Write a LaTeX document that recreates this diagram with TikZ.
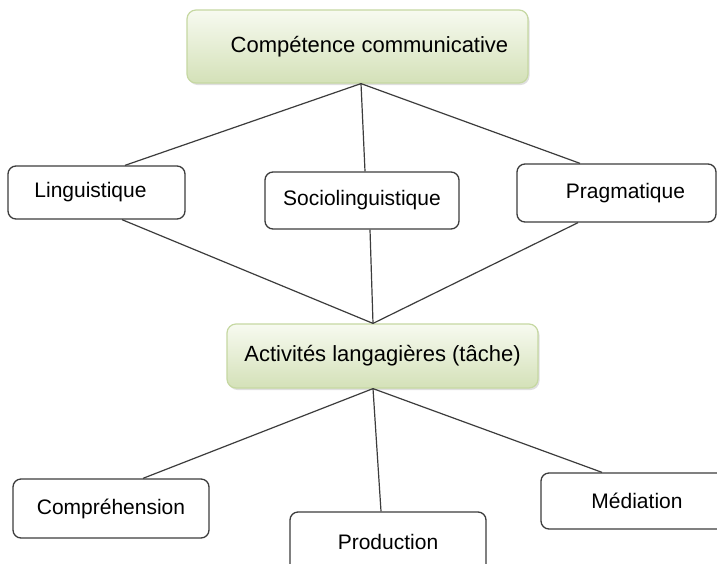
\documentclass[tikz,border=0pt]{standalone}
\usepackage{fontspec}
\setmainfont{Liberation Sans}
\usetikzlibrary{calc,shadows}

\definecolor{themetop}{HTML}{F7FAF0}
\definecolor{themebot}{HTML}{D4E1B8}
\definecolor{themeline}{HTML}{C6D8A2}
\definecolor{boxline}{HTML}{3C3C3C}

\tikzset{
  theme/.style={draw=themeline, line width=1.2pt, rounded corners=9pt,
    top color=themetop, bottom color=themebot,
    drop shadow={shadow xshift=1.5pt, shadow yshift=-2pt, opacity=0.25},
    font=\fontsize{22pt}{26pt}\selectfont},
  plain/.style={draw=boxline, line width=1.3pt, rounded corners=8pt, fill=white,
    font=\fontsize{21pt}{25pt}\selectfont},
  link/.style={draw=boxline, line width=1.2pt}
}

\begin{document}
\begin{tikzpicture}[x=1pt, y=-1pt]
		%%%%% START %%%%%
		\useasboundingbox[fill=white] (0,0) rectangle (717,563);
		\clip (0,0) rectangle (717,563);
		
		\node[theme, minimum width=341pt, minimum height=73pt] (comp) at (357.5, 46.5) {\hspace*{24pt}Compétence communicative};
		
		\node[plain, minimum width=177pt, minimum height=53pt] (ling) at (96.5, 192.5) {Linguistique\hspace*{12pt}};
		\node[plain, minimum width=194pt, minimum height=57pt] (socio) at (362, 200.5) {Sociolinguistique};
		\node[plain, minimum width=199pt, minimum height=58pt] (prag) at (616.5, 193) {\hspace*{18pt}Pragmatique};
		
		\node[theme, minimum width=311pt, minimum height=64pt] (act) at (382.5, 356) {Activités langagières (tâche)};
		
		\node[plain, minimum width=196pt, minimum height=59pt] (compr) at (111, 508.5) {Compréhension};
		\node[plain, minimum width=196pt, minimum height=60pt] (prod) at (388, 542) {Production};
		\node[plain, minimum width=215pt, minimum height=56pt] (med) at (648.5, 501) {Médiation\hspace*{23pt}};
		
		\draw[link] ([xshift=3.5pt]comp.south) -- ([xshift=28.5pt]ling.north);
		\draw[link] ([xshift=3.5pt]comp.south) -- ([xshift=3pt]socio.north);
		\draw[link] ([xshift=3.5pt]comp.south) -- ([xshift=-36.5pt]prag.north);
		
		\draw[link] ([xshift=25.5pt]ling.south) -- ([xshift=-9.5pt]act.north);
		\draw[link] ([xshift=8pt]socio.south) -- ([xshift=-9.5pt]act.north);
		\draw[link] ([xshift=-38.5pt]prag.south) -- ([xshift=-9.5pt]act.north);
		
		\draw[link] ([xshift=-9.5pt]act.south) -- ([xshift=32pt]compr.north);
		\draw[link] ([xshift=-9.5pt]act.south) -- ([xshift=-7pt]prod.north);
		\draw[link] ([xshift=-9.5pt]act.south) -- ([xshift=-46.5pt]med.north);
		
		%%%%% END %%%%%
\end{tikzpicture}
\end{document}
